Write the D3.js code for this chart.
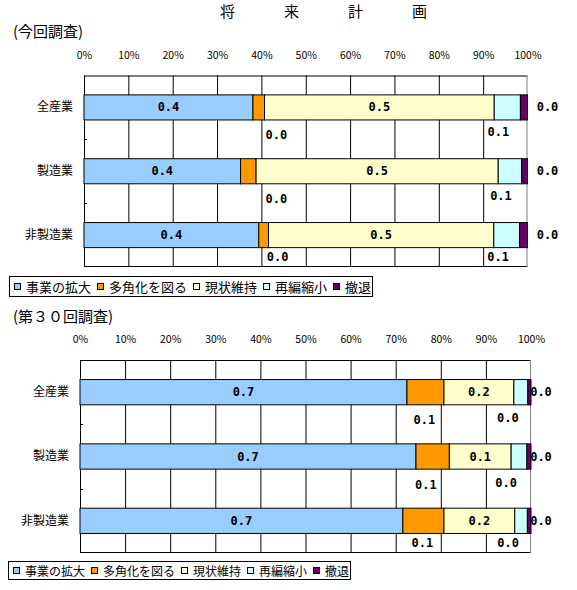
<!DOCTYPE html>
<html>
<head>
<meta charset="utf-8">
<script src="https://cdn.jsdelivr.net/npm/d3@7"></script>
<style>
body { margin: 0; background: #fff; }
svg { display: block; }
</style>
</head>
<body>
<div id="chart"></div>
<script>
const categories = ["全産業", "製造業", "非製造業"]
const seriesNames = ["事業の拡大", "多角化を図る", "現状維持", "再編縮小", "撤退"]
const seriesColors = ["#99ccff", "#ff9900", "#ffffcc", "#ccffff", "#660066"]
const pctTicks = [0, 0.1, 0.2, 0.3, 0.4, 0.5, 0.6, 0.7, 0.8, 0.9, 1]

// 今回調査
const nowExpand = [0.381, 0.353, 0.394]
const nowDiversify = [0.026, 0.035, 0.022]
const nowKeep = [0.518, 0.546, 0.508]
const nowShrink = [0.059, 0.053, 0.058]
const nowWithdraw = [0.016, 0.013, 0.018]

// 第30回調査
const prevExpand = [0.725, 0.745, 0.716]
const prevDiversify = [0.082, 0.074, 0.091]
const prevKeep = [0.155, 0.137, 0.157]
const prevShrink = [0.031, 0.035, 0.028]
const prevWithdraw = [0.007, 0.009, 0.008]

const jp = "'Noto Sans CJK JP', sans-serif"
const mono = "'DejaVu Sans Mono', monospace"

const svg = d3.select("#chart").append("svg")
    .attr("width", 577)
    .attr("height", 590)

svg.append("rect").attr("width", 577).attr("height", 590).attr("fill", "#fff")

// title
svg.append("text")
    .attr("x", 220).attr("y", 10)
    .attr("dominant-baseline", "central")
    .style("font-family", jp).style("font-size", "15px")
    .style("letter-spacing", "49px")
    .text("将来計画")

function buildRows(series){
    return categories.map((c, i) => {
        let row = {cat: c}
        seriesNames.forEach((s, j) => row[s] = series[j][i])
        return row
    })
}

function drawChart(series, lay){
    const g = svg.append("g")
    const x = d3.scaleLinear().domain([0, 1]).range([lay.left, lay.right])
    const y = d3.scaleBand().domain(categories).range([lay.top, lay.bottom])
        .paddingInner(0.607).paddingOuter(0.3035)
    const H = lay.bottom - lay.top

    // vertical gridlines
    g.append("g")
        .attr("transform", `translate(0,${lay.top})`)
        .call(d3.axisBottom(x).tickValues(pctTicks.slice(1, -1)).tickSize(H).tickFormat(""))
        .call(a => a.select(".domain").remove())
        .call(a => a.selectAll("line").attr("stroke", "#000"))

    // percent labels on top
    g.append("g")
        .attr("transform", `translate(0,${lay.top})`)
        .call(d3.axisTop(x).tickValues(pctTicks).tickSize(0).tickPadding(lay.labelPad)
            .tickFormat(d3.format(".0%")))
        .call(a => a.select(".domain").remove())
        .call(a => a.selectAll("text")
            .style("font-family", jp).style("font-size", "10.5px").attr("fill", "#000"))

    // plot frame
    g.append("line").attr("x1", lay.left).attr("x2", lay.right)
        .attr("y1", lay.top + 0.5).attr("y2", lay.top + 0.5).attr("stroke", "#000")
    g.append("line").attr("x1", lay.left).attr("x2", lay.right)
        .attr("y1", lay.bottom - 0.5).attr("y2", lay.bottom - 0.5).attr("stroke", "#000")
    g.append("line").attr("x1", lay.right - 0.5).attr("x2", lay.right - 0.5)
        .attr("y1", lay.top).attr("y2", lay.bottom).attr("stroke", "#808080")

    // category axis
    g.append("g")
        .attr("transform", `translate(${lay.left},0)`)
        .call(d3.axisLeft(y).tickSize(0).tickPadding(lay.catPad))
        .call(a => a.select(".domain").remove())
        .call(a => a.selectAll("text")
            .style("font-family", jp).style("font-size", "12px").attr("fill", "#000"))
    g.append("line").attr("x1", lay.left + 0.5).attr("x2", lay.left + 0.5)
        .attr("y1", lay.top).attr("y2", lay.bottom).attr("stroke", "#000")
    d3.range(1, categories.length).forEach(i => {
        let yy = Math.round(lay.top + y.step() * i) + 0.5
        g.append("line").attr("x1", lay.left).attr("x2", lay.left + 3)
            .attr("y1", yy).attr("y2", yy).attr("stroke", "#000")
    })

    // stacked bars
    const stacked = d3.stack().keys(seriesNames)(buildRows(series))
    const layers = g.selectAll("g.layer").data(stacked).join("g")
        .attr("class", "layer")
        .attr("fill", (d, i) => seriesColors[i])

    layers.selectAll("rect").data(d => d).join("rect")
        .attr("x", d => x(d[0]))
        .attr("y", d => y(d.data.cat))
        .attr("width", d => x(d[1]) - x(d[0]))
        .attr("height", y.bandwidth())
        .attr("stroke", "#000")
        .attr("stroke-width", 1)

    // data labels
    const fmt = d3.format(".1f")
    const half = 11, clear = 4
    stacked.forEach((layer, si) => {
        layer.forEach(d => {
            let v = d[1] - d[0]
            let cx = (x(d[0]) + x(d[1])) / 2
            let cy = y(d.data.cat) + y.bandwidth() / 2
            let lx = cx, ly = cy
            if(lay.below[si] != null){
                lx = cx + lay.below[si][0]
                ly = Math.min(cy + lay.below[si][1], lay.bottom - 10)
                // keep labels off the gridlines
                pctTicks.forEach(t => {
                    let gx = x(t)
                    if(lx - half - clear < gx && lx + half + clear > gx){
                        lx = lx < gx ? gx - half - clear : gx + half + clear
                    }
                })
            }
            if(si === seriesNames.length - 1){
                lx = lay.right + lay.rightGap
            }
            g.append("text")
                .attr("x", lx).attr("y", ly)
                .attr("text-anchor", "middle")
                .attr("dominant-baseline", "central")
                .style("font-family", mono).style("font-size", "12px")
                .style("font-weight", "bold")
                .text(fmt(v))
        })
    })
}

function drawLegend(x0, y0, w, h, fs){
    const g = svg.append("g")
    g.append("rect").attr("x", x0 + 0.5).attr("y", y0 + 0.5)
        .attr("width", w).attr("height", h)
        .attr("fill", "#fff").attr("stroke", "#000")
    let cx = x0 + 5
    let cy = y0 + h / 2
    seriesNames.forEach((s, i) => {
        g.append("rect").attr("x", cx + 0.5).attr("y", Math.round(cy - 3.5) + 0.5)
            .attr("width", 6).attr("height", 6)
            .attr("fill", seriesColors[i]).attr("stroke", "#000")
        let t = g.append("text").attr("x", cx + 12).attr("y", cy)
            .attr("dominant-baseline", "central")
            .style("font-family", jp).style("font-size", fs + "px")
            .text(s)
        cx = cx + 12 + t.node().getComputedTextLength() + 6
    })
}

function subTitle(txt, yy){
    svg.append("text").attr("x", 13).attr("y", yy)
        .attr("dominant-baseline", "central")
        .style("font-family", jp).style("font-size", "15px")
        .text(txt)
}

subTitle("(今回調査)", 30)
drawChart([nowExpand, nowDiversify, nowKeep, nowShrink, nowWithdraw], {
    left: 84, right: 527.5, top: 75.5, bottom: 267,
    labelPad: 17, catPad: 11, rightGap: 20,
    below: [null, [14, 28], null, [-9, 25], null]
})
drawLegend(9, 276, 363, 20, 13)

subTitle("(第３０回調査)", 315)
drawChart([prevExpand, prevDiversify, prevKeep, prevShrink, prevWithdraw], {
    left: 80, right: 531, top: 360, bottom: 553,
    labelPad: 17, catPad: 11, rightGap: 10,
    below: [null, [-1, 28], null, [-13, 26], null]
})
drawLegend(8, 561, 342, 18, 12)
</script>
</body>
</html>
